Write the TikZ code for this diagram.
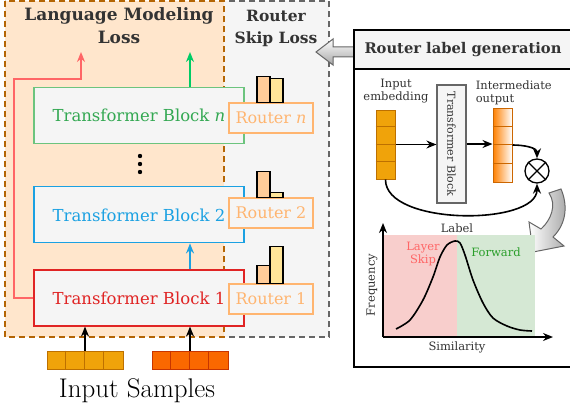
\documentclass[tikz,border=0pt]{standalone}
\usepackage{fontspec}
\newfontfamily\geo{DejaVu Serif}
\usetikzlibrary{positioning, arrows.meta}
\definecolor{lmfill}{HTML}{FFE6CC}
\definecolor{lmline}{HTML}{B46504}
\definecolor{panelgray}{HTML}{F5F5F5}
\definecolor{darkgray}{HTML}{333333}
\definecolor{midgray}{HTML}{666666}
\definecolor{routerorange}{HTML}{FFB570}
\definecolor{bara}{HTML}{FFCC99}
\definecolor{barb}{HTML}{FFE599}
\definecolor{tbgreen}{HTML}{33A852}
\definecolor{tbgreenline}{HTML}{6CC47E}
\definecolor{tbblue}{HTML}{1BA1E2}
\definecolor{tbred}{HTML}{E02424}
\definecolor{skipred}{HTML}{FF6666}
\definecolor{lossgreen}{HTML}{00CC66}
\definecolor{embyellow}{HTML}{F0A30A}
\definecolor{embyellowline}{HTML}{BD7000}
\definecolor{embred}{HTML}{FA6800}
\definecolor{embredline}{HTML}{C73500}
\definecolor{outorange}{HTML}{FF8000}
\definecolor{skipfill}{HTML}{F8CECC}
\definecolor{fwdfill}{HTML}{D5E8D4}
\definecolor{fwdgreen}{HTML}{2A9E2A}
\tikzset{
  tblock/.style={draw, fill=panelgray, line width=1.1pt, minimum width=210pt, minimum height=56pt,
                 inner sep=0pt, font=\geo\fontsize{16.5}{19}\selectfont},
  router/.style={draw=routerorange, line width=1.8pt, fill=panelgray, text=routerorange,
                 minimum width=84pt, minimum height=30pt, inner sep=0pt,
                 font=\geo\fontsize{16}{18}\selectfont},
  title/.style={text=darkgray, align=center, font=\geo\bfseries\fontsize{17}{23}\selectfont},
  small/.style={text=darkgray, align=center, inner sep=0pt, font=\geo\fontsize{11.5}{13}\selectfont},
  cellvec/.style={draw, line width=1pt, inner sep=0pt},
  regionline/.style={line width=1.5pt, dash pattern=on 6pt off 4pt},
}
\begin{document}
\begin{tikzpicture}[x=1pt, y=-1pt, line width=1.6pt, >={Stealth[length=10pt,width=8pt]}]
    \useasboundingbox (0,0) rectangle (570,412);

    % loss regions
    \draw[regionline, midgray, fill=panelgray] (5,1) rectangle (329,337);
    \draw[regionline, lmline, fill=lmfill, line width=1.2pt] (5,1) rectangle (224,337);
    \node[title] (lmloss) at (119,26) {Language Modeling\\Loss};
    \node[title, font=\geo\bfseries\fontsize{15.5}{22}\selectfont] (skiploss) at (276,28) {Router\\Skip Loss};

    % transformer blocks
    \node[tblock, draw=tbred, text=tbred] (tb1) at (139,298) {Transformer Block 1};
    \node[tblock, draw=tbblue, text=tbblue, above=26pt of tb1] (tb2) {Transformer Block 2};
    \node[tblock, draw=tbgreenline, text=tbgreen, above=42pt of tb2] (tbn) {Transformer Block \textit{n}\hspace{6pt}};
    \foreach \y in {156,164,172}
        \fill (140,\y) circle (2.2pt);

    % routers
    \node[router] (r1) at (271,299) {Router 1};
    \node[router] (r2) at (271,213) {Router 2};
    \node[router] (rn) at (271,118) {Router \textit{n}};
    \foreach \r/\ha/\hb in {rn/26/24, r2/26/5, r1/18/37} {
        \draw[fill=bara, line width=1.2pt] ([xshift=-14pt]\r.north) rectangle ++(13,-\ha);
        \draw[fill=barb, line width=1.2pt] ([xshift=-1pt]\r.north) rectangle ++(13,-\hb);
    }

    % arrows to the losses
    \coordinate (lossr) at (81,52);
    \coordinate (lossg) at (190,52);
    \draw[->, skipred] (tb1.west) -| (14,79) -| (lossr);
    \draw[->, lossgreen] (lossg |- tbn.north) -- (lossg);
    \draw[->, tbblue] (lossg |- tb1.north) -- (lossg |- tb2.south);

    % input samples
    \node[cellvec, draw=embyellowline, fill=embyellow, minimum width=76pt, minimum height=18pt] (in1) at (85,360) {};
    \node[cellvec, draw=embredline, fill=embred, minimum width=76pt, minimum height=18pt] (in2) at (190,360) {};
    \foreach \v/\c in {in1/embyellowline, in2/embredline}
        \foreach \i in {1,2,3}
            \draw[\c, line width=1pt] ([xshift=\i*19pt]\v.north west) -- ([xshift=\i*19pt]\v.south west);
    \draw[->] (in1.north) -- (in1.north |- tb1.south);
    \draw[->] (in2.north) -- (in2.north |- tb1.south);
    \node[font=\fontsize{27}{29}\selectfont] (samples) at (137,391) {Input Samples};

    % arrow from the label panel
    \draw[midgray, line width=1pt, top color=white, bottom color=black!35]
        (316,52) -- (333,39) -- (333,47) -- (355,47) -- (355,57) -- (333,57) -- (333,65) -- cycle;

    % router label generation panel
    \draw[line width=2.2pt] (354,30) rectangle (580,367);
    \draw[line width=2.2pt, fill=panelgray] (354,30) rectangle (580,69);
    \node[title, font=\geo\bfseries\fontsize{14.7}{16}\selectfont] (labgen) at (463,50) {Router label generation};

    \node[cellvec, draw=embyellowline, fill=embyellow, minimum width=19pt, minimum height=69pt] (inemb) at (385.5,144.5) {};
    \node[cellvec, draw=outorange!80!black, left color=outorange, middle color=outorange, right color=white,
          minimum width=19pt, minimum height=74pt] (outv) at (502.5,145) {};
    \foreach \v/\h/\c in {inemb/17.25/embyellowline, outv/18.5/outorange!80!black}
        \foreach \i in {1,2,3}
            \draw[\c, line width=0.8pt] ([yshift=-\i*\h pt]\v.north west) -- ([yshift=-\i*\h pt]\v.north east);
    \node[small] (inlab) at (396,91) {Input\\embedding};
    \node[small, align=left, anchor=south west] (outlab) at (475,106) {Intermediate\\output};
    \node[draw=midgray, fill=panelgray, line width=1.2pt, rotate=-90, minimum width=118pt, minimum height=29pt, inner sep=0pt,
          text=darkgray, font=\geo\fontsize{11}{13}\selectfont] (tbv) at (451.5,144) {Transformer Block};
    \node[draw, circle, line width=1.3pt, minimum size=24pt, inner sep=0pt] (otimes) at (537,171) {};
    \draw[line width=1.3pt] (otimes.north west) -- (otimes.south east);
    \draw[line width=1.3pt] (otimes.north east) -- (otimes.south west);

    \draw[->] (inemb.east) -- (inemb.east -| tbv.south);
    \draw[->] (tbv.north) -- (tbv.north -| outv.west);
    \draw[->] (outv.east) to[out=0, in=90] (otimes.north);
    \draw[->] (inemb.south) .. controls (385,226) and (537,226) .. (otimes.south);

    % curved arrow down to the histogram
    \draw[midgray, line width=1pt, left color=white, right color=black!35]
        (549,193) .. controls (557,205) and (551,220) .. (541,229) -- (529,222) -- (533,252)
        -- (564,246) -- (553,237) .. controls (568,222) and (567,203) .. (561,189) -- cycle;

    % histogram
    \fill[skipfill] (383,235) rectangle (457,337);
    \fill[fwdfill] (457,235) rectangle (535,337);
    \coordinate (origin) at (383,337);
    \coordinate (ytip) at (383,223);
    \coordinate (xtip) at (553,337);
    \draw[->, line width=2pt] (origin) -- (ytip);
    \draw[->, line width=2pt] (origin) -- (xtip);
    \draw plot[smooth] coordinates {(396,329) (410,320) (423,300) (433,277) (440,257) (447,245)
        (455,241) (460,243) (465,255) (473,280) (483,303) (493,318) (507,326) (520,330) (532,331)};
    \node[small] (lab) at (457,228) {Label};
    \node[small, text=skipred] (skip) at (423,254) {Layer\\Skip};
    \node[small, text=fwdgreen] (fwd) at (496,252) {Forward};
    \node[small, rotate=90] (freq) at (372,285) {Frequency};
    \node[small] (sim) at (457,347) {Similarity};
\end{tikzpicture}
\end{document}
